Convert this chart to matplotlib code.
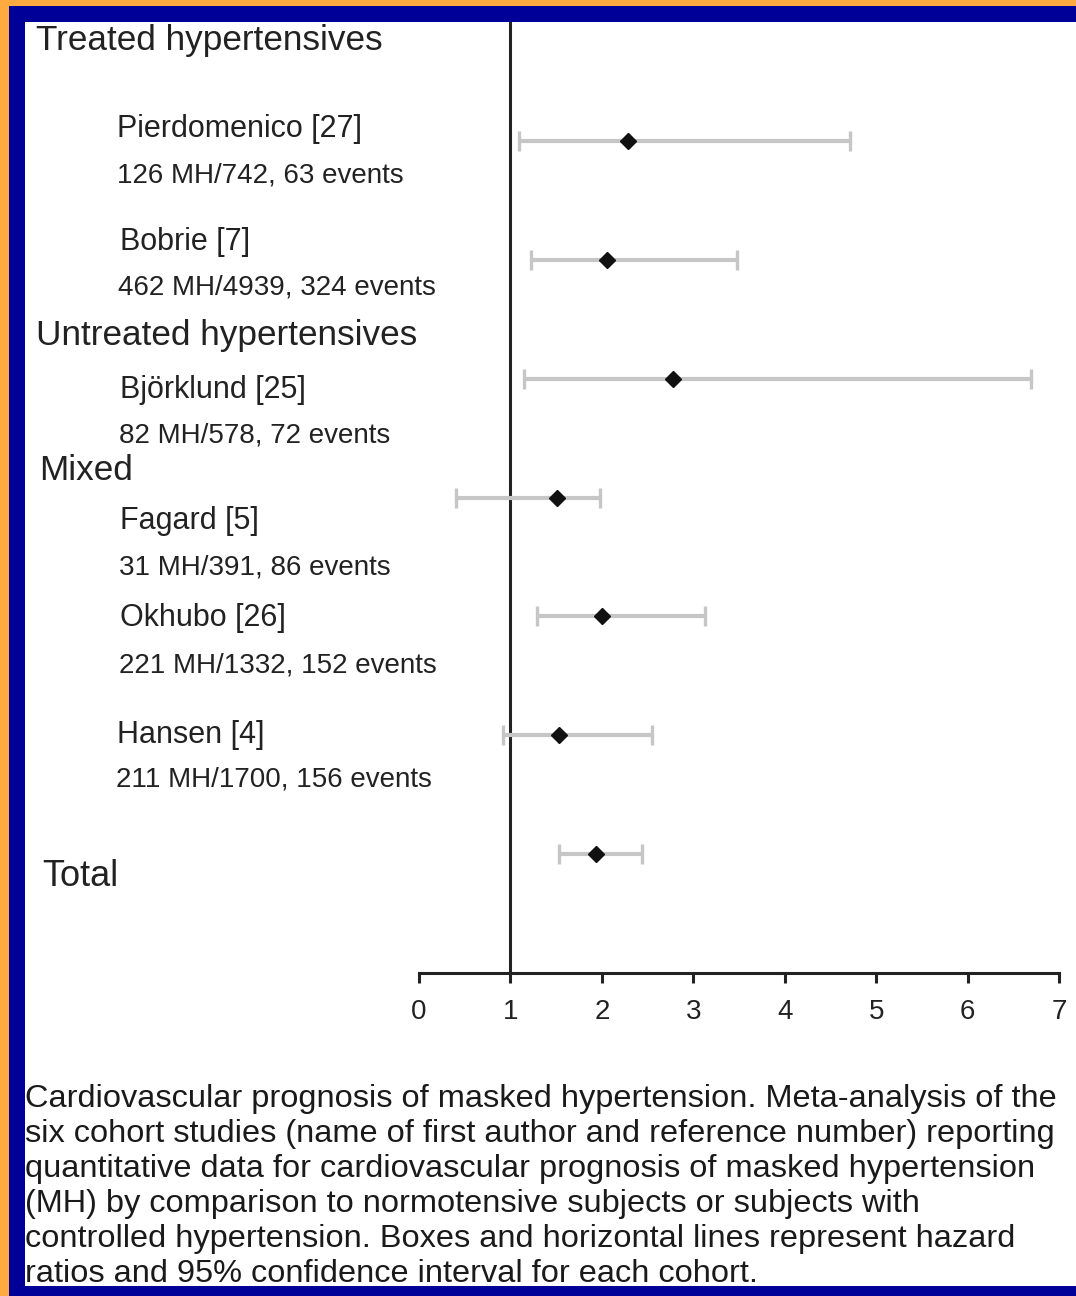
import numpy as np
import matplotlib; matplotlib.use("Agg")
import matplotlib.pyplot as plt
from matplotlib.patches import Rectangle

plt.rcParams['font.family'] = ['Liberation Sans', 'DejaVu Sans']

W, H = 1076, 1296
INK = "#222222"

# hazard ratios and 95% CI per cohort, last row is the pooled estimate
studies = ["Pierdomenico [27]", "Bobrie [7]", "Björklund [25]", "Fagard [5]",
           "Okhubo [26]", "Hansen [4]", "Total"]
details = ["126 MH/742, 63 events", "462 MH/4939, 324 events", "82 MH/578, 72 events",
           "31 MH/391, 86 events", "221 MH/1332, 152 events", "211 MH/1700, 156 events", ""]
hr = np.array([2.29, 2.06, 2.78, 1.51, 2.00, 1.53, 1.94])
lo = np.array([1.09, 1.22, 1.15, 0.41, 1.29, 0.92, 1.53])
hi = np.array([4.71, 3.48, 6.69, 1.98, 3.13, 2.55, 2.44])
groups = ["Treated hypertensives", "Untreated hypertensives", "Mixed"]
xticks = [0, 1, 2, 3, 4, 5, 6, 7]

caption = [
    "Cardiovascular prognosis of masked hypertension. Meta-analysis of the",
    "six cohort studies (name of first author and reference number) reporting",
    "quantitative data for cardiovascular prognosis of masked hypertension",
    "(MH) by comparison to normotensive subjects or subjects with",
    "controlled hypertension. Boxes and horizontal lines represent hazard",
    "ratios and 95% confidence interval for each cohort.",
]


def px(x, y):
    return x / W, 1 - y / H


fig = plt.figure(figsize=(W / 100, H / 100), dpi=100)
fig.patch.set_facecolor("white")

ax_top, ax_bot = 22, 973
ax = fig.add_axes([419 / W, (H - ax_bot) / H, 640 / W, (ax_bot - ax_top) / H])
ax.set_xlim(0, 7)
ax.set_ylim(7, -1)
ax.patch.set_alpha(0)
for s in ("top", "right", "left"):
    ax.spines[s].set_visible(False)
ax.spines["bottom"].set_color(INK)
ax.spines["bottom"].set_linewidth(2.2)
ax.set_yticks([])
ax.set_xticks(xticks)
ax.tick_params(axis="x", direction="out", length=7, width=2.2, color=INK,
               labelsize=20, labelcolor=INK, pad=12)

rows = np.arange(len(studies))
ax.axvline(1, color=INK, lw=2.2, zorder=1)
ax.errorbar(hr, rows, xerr=[hr - lo, hi - hr], fmt="none", ecolor="#c6c6c6",
            elinewidth=3, capsize=7, capthick=2.4, zorder=2, clip_on=False)
ax.plot(hr, rows, "D", color="#111111", ms=8.5, zorder=3)

# left-hand labels (figure pixels, baseline)
heads = [(36, 50), (36, 345), (39, 480)]
for g, (x, y) in zip(groups, heads):
    fig.text(*px(x, y), g, fontsize=25.3, color=INK, va="baseline")

name_pos = [(117, 137), (120, 250), (120, 398), (120, 529), (120, 626), (117, 743)]
det_pos = [(117, 182), (118, 295), (119, 443), (119, 575), (119, 673), (116, 787)]
for i in range(6):
    fig.text(*px(*name_pos[i]), studies[i], fontsize=22, color=INK, va="baseline")
    fig.text(*px(*det_pos[i]), details[i], fontsize=20, color=INK, va="baseline")
fig.text(*px(42, 886), studies[-1], fontsize=26, color=INK, va="baseline")

for i, line in enumerate(caption):
    fig.text(*px(25, 1107 + 35 * i), line, fontsize=23.4, color="#1a1a1a", va="baseline")

# slide frame: orange edge, blue border
orange, blue = "#ffaa40", "#000099"
for (x0, y0, w, h, c) in [(0, 0, 9, H, orange), (0, 0, W, 6, orange),
                          (9, 6, 16, H, blue), (9, 6, W, 16, blue),
                          (9, 1286, W, 10, blue)]:
    fig.add_artist(Rectangle((x0 / W, 1 - (y0 + h) / H), w / W, h / H,
                             transform=fig.transFigure, color=c, lw=0, zorder=10))

fig.savefig("out.png", dpi=100)
